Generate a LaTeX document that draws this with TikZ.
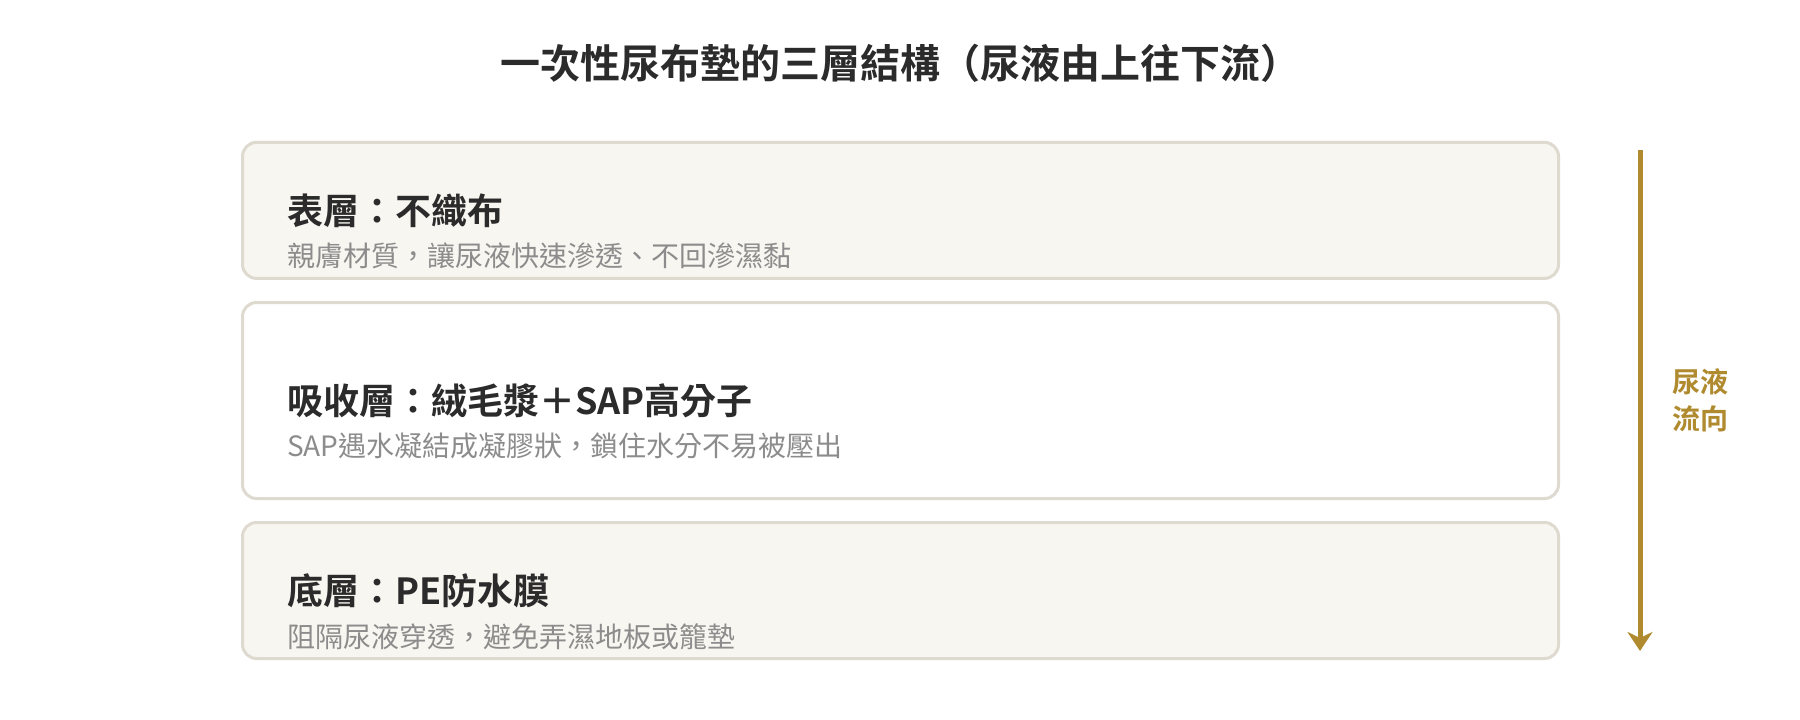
\documentclass[tikz,border=0pt]{standalone}
\usepackage{fontspec}
\setmainfont{Noto Sans CJK TC}[BoldFont={Noto Sans CJK TC Bold}]
\usetikzlibrary{arrows.meta}
\definecolor{creamfill}{HTML}{F8F6F0}
\definecolor{boxline}{HTML}{DEDAD0}
\definecolor{titleink}{HTML}{2B2B2B}
\definecolor{subink}{HTML}{8C8C8C}
\definecolor{gold}{HTML}{B08A2E}
\tikzset{
  layerbox/.style={draw=boxline, line width=3pt, rounded corners=14pt, minimum width=1316pt, inner sep=0pt},
  headtxt/.style={font=\fontsize{40}{47}\selectfont\bfseries, text=titleink, inner sep=0pt},
  ttltxt/.style={font=\fontsize{36}{43}\selectfont\bfseries, text=titleink, inner sep=0pt, anchor=west},
  subtxt/.style={font=\fontsize{28}{33}\selectfont, text=subink, inner sep=0pt, anchor=west},
  flowline/.style={draw=gold, line width=5pt, -{Stealth[length=19pt, width=25pt, inset=6pt]}},
  flowlbl/.style={font=\fontsize{28}{37}\selectfont\bfseries, text=gold, align=center, inner sep=0pt}
}
\begin{document}
\begin{tikzpicture}[x=1pt,y=-1pt]
\useasboundingbox[fill=white] (0,0) rectangle (1800,720);
\node[headtxt] (head) at (900,63) {一次性尿布墊的三層結構（尿液由上往下流）};

\node[layerbox, fill=creamfill, minimum height=136pt] (b1) at (900.5,210.4) {};
\node[layerbox, fill=white, minimum height=196pt] (b2) at (900.5,400.5) {};
\node[layerbox, fill=creamfill, minimum height=136pt] (b3) at (900.5,590.5) {};

\node[ttltxt] (t1) at (287,211) {表層：不織布};
\node[subtxt] (s1) at (287,256) {親膚材質，讓尿液快速滲透、不回滲濕黏};

\node[ttltxt] (t2) at (287,401) {吸收層：絨毛漿＋SAP高分子};
\node[subtxt] (s2) at (287,446) {SAP遇水凝結成凝膠狀，鎖住水分不易被壓出};

\node[ttltxt] (t3) at (287,591) {底層：PE防水膜};
\node[subtxt] (s3) at (287,637) {阻隔尿液穿透，避免弄濕地板或籠墊};

\coordinate (ftop) at (1640,150);
\coordinate (fbot) at (1640,651);
\draw[flowline] (ftop) -- (fbot);
\node[flowlbl] (flbl) at (1700,400) {尿液\\流向};
\end{tikzpicture}
\end{document}
